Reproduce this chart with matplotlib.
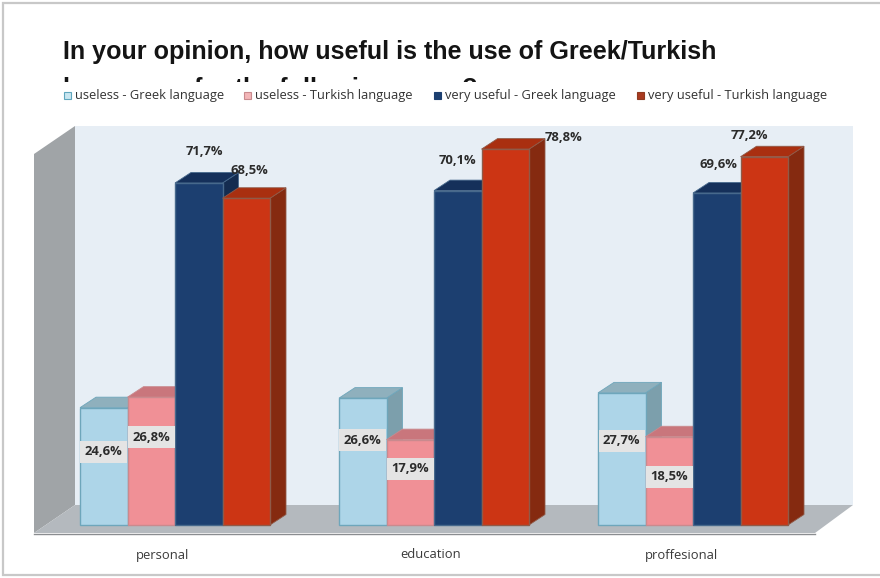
import matplotlib
matplotlib.use("Agg")
import matplotlib.pyplot as plt
from matplotlib.patches import Polygon, Rectangle

W, H = 880, 578
DPI = 100

categories = ["personal", "education", "proffesional"]
series_names = [
    "useless - Greek language",
    "useless - Turkish language",
    "very useful - Greek language",
    "very useful - Turkish language",
]
useless_greek = [24.6, 26.6, 27.7]
useless_turkish = [26.8, 17.9, 18.5]
useful_greek = [71.7, 70.1, 69.6]
useful_turkish = [68.5, 78.8, 77.2]
series_values = [useless_greek, useless_turkish, useful_greek, useful_turkish]

# front, top, side, edge
STYLES = [
    ("#add5e8", "#8fb0bd", "#7c9fac", "#6ea6bb"),
    ("#f09096", "#c9767c", "#b5666c", "#c98a8e"),
    ("#1c3f70", "#15305a", "#142c50", "#47698c"),
    ("#cc3514", "#a92f10", "#852a10", "#8f5a48"),
]

PX_PER_UNIT = 4.77     # pixels per percentage point
GROUP_STEP = 259       # pixels between groups
BAR_PX = 47.5
DEPTH_X = 16
DEPTH_Y = 10.5
BASE_Y = 525
FIRST_GROUP = 175

# label placement relative to the top centre of each bar, in pixels
LABEL_OFFSETS = [
    [(0, -44), (0, -42), (0, -48)],
    [(0, -40), (0, -29), (0, -40)],
    [(6, 31), (0, 30), (2, 29)],
    [(3, 28), (58, 12), (-15, 21)],
]
CATEGORY_SHIFT = [-12, -3, -12]

plt.rcParams["font.family"] = ["Open Sans", "DejaVu Sans"]

fig = plt.figure(figsize=(W / DPI, H / DPI), dpi=DPI, facecolor="white")

# scenery (frame, walls, floor, title, legend) in pixel coordinates
bg = fig.add_axes([0, 0, 1, 1], zorder=1)
bg.set_xlim(0, W)
bg.set_ylim(H, 0)
bg.axis("off")

bg.add_patch(Rectangle((3, 3), W + 20, H - 6, fc="white", ec="#c8c8c8", lw=1.6))

bg.add_patch(Polygon([(75, 126), (853, 126), (853, 505), (75, 505)], fc="#e7eef5", ec="none"))
bg.add_patch(Polygon([(34, 154), (75, 126), (75, 505), (34, 533)], fc="#a0a4a7", ec="none"))
bg.add_patch(Polygon([(34, 533), (75, 505), (853, 505), (815, 533)], fc="#b4b9be", ec="none"))
bg.plot([34, 815], [533.5, 533.5], color="#8a8d90", lw=1)

bg.text(63, 59, "In your opinion, how useful is the use of Greek/Turkish",
        fontsize=18.1, fontweight="bold", family="Liberation Sans",
        color="#141414", va="baseline", ha="left")
bg.text(63, 96, "languages for the following areas?",
        fontsize=18.1, fontweight="bold", family="Liberation Sans",
        color="#141414", va="baseline", ha="left")
# the legend strip sits on top of the wrapped second title line
bg.add_patch(Rectangle((50, 82), 810, 30, fc="white", ec="none", zorder=3))

legend_boxes = [64, 244, 434, 637]
legend_fill = ["#c9e6f0", "#f3b6b8", "#1c3f70", "#a93a20"]
legend_edge = ["#5fa6bd", "#c98a8e", "#1c3f70", "#8f3a20"]
for name, lx, fc, ec in zip(series_names, legend_boxes, legend_fill, legend_edge):
    bg.add_patch(Rectangle((lx, 92), 7, 7, fc=fc, ec=ec, lw=0.8, zorder=4))
    bg.text(lx + 11, 96, name, fontsize=9.3, color="#333333",
            va="center", ha="left", zorder=4)

# bars on a percentage scale
ax = fig.add_axes([0, 0, 1, 1], zorder=2)
ax.set_xlim(-FIRST_GROUP / GROUP_STEP, (W - FIRST_GROUP) / GROUP_STEP)
ax.set_ylim(-(H - BASE_Y) / PX_PER_UNIT, BASE_Y / PX_PER_UNIT)
ax.axis("off")
ax.patch.set_alpha(0)

bar_w = BAR_PX / GROUP_STEP
dx = DEPTH_X / GROUP_STEP
dy = DEPTH_Y / PX_PER_UNIT

for s, values in enumerate(series_values):
    front, top, side, edge = STYLES[s]
    for g, v in enumerate(values):
        x0 = g + (s - 2) * bar_w
        x1 = x0 + bar_w
        ax.add_patch(Polygon([(x1, 0), (x1 + dx, dy), (x1 + dx, v + dy), (x1, v)],
                             fc=side, ec=edge, lw=0.6, zorder=2 + s))
        ax.add_patch(Polygon([(x0, v), (x0 + dx, v + dy), (x1 + dx, v + dy), (x1, v)],
                             fc=top, ec=edge, lw=0.6, zorder=2 + s))
        ax.add_patch(Rectangle((x0, 0), bar_w, v, fc=front, ec=edge, lw=1.0, zorder=2 + s))

for s, values in enumerate(series_values):
    for g, v in enumerate(values):
        ox, oy = LABEL_OFFSETS[s][g]
        box = dict(fc="#e4e4e4", ec="none", pad=3.2) if s < 2 else None
        ax.annotate(f"{v:.1f}%".replace(".", ","),
                    xy=(g + (s - 1.5) * bar_w, v),
                    xytext=(ox * 72 / DPI, oy * 72 / DPI), textcoords="offset points",
                    ha="center", va="center", fontsize=9.4, fontweight="bold",
                    color="#2b2b2b", bbox=box, zorder=10)

for g, name in enumerate(categories):
    ax.annotate(name, xy=(g, 0), xytext=(CATEGORY_SHIFT[g] * 72 / DPI, -30 * 72 / DPI),
                textcoords="offset points", ha="center", va="center",
                fontsize=9.4, color="#3a3a3a")

fig.savefig("out.png", dpi=DPI, facecolor="white")
